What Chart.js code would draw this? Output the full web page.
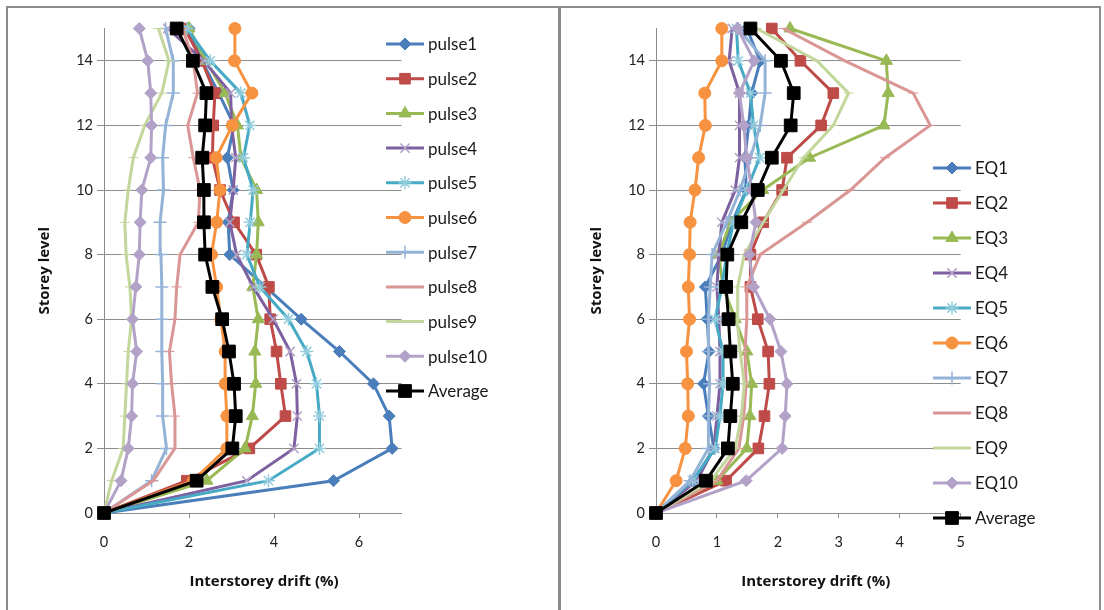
<!DOCTYPE html>
<html>
<head>
<meta charset="utf-8">
<script src="https://cdn.jsdelivr.net/npm/chart.js@4.4.1/dist/chart.umd.min.js"></script>
<style>
body { margin: 0; background: #fff; }
#wrap { position: relative; width: 1104px; height: 610px; overflow: hidden; }
.frame { position: absolute; top: 6px; height: 620px; border-top: 2px solid #8c8c8c; box-sizing: border-box; }
#f1 { left: 6px; width: 555px; border-left: 2px solid #8c8c8c; border-right: 3px solid #8c8c8c; }
#f2 { left: 561px; width: 540px; border-right: 2px solid #8c8c8c; }
canvas { position: absolute; top: 0; }
#c1 { left: 0; }
#c2 { left: 560px; }
</style>
</head>
<body>
<div id="wrap">
  <div class="frame" id="f1"></div>
  <div class="frame" id="f2"></div>
  <canvas id="c1" width="557" height="610"></canvas>
  <canvas id="c2" width="544" height="610"></canvas>
</div>
<script>
// storey levels (y) and tick labels
const storeys = [0, 1, 2, 3, 4, 5, 6, 7, 8, 9, 10, 11, 12, 13, 14, 15];
const yTicks = [0, 2, 4, 6, 8, 10, 12, 14];
const pulseXTicks = [0, 2, 4, 6];
const eqXTicks = [0, 1, 2, 3, 4, 5];

const pulseNames = ['pulse1', 'pulse2', 'pulse3', 'pulse4', 'pulse5', 'pulse6', 'pulse7', 'pulse8', 'pulse9', 'pulse10', 'Average'];
const eqNames = ['EQ1', 'EQ2', 'EQ3', 'EQ4', 'EQ5', 'EQ6', 'EQ7', 'EQ8', 'EQ9', 'EQ10', 'Average'];

// interstorey drift (%) per storey 0..15 - pulse records
const pulse1 = [0, 5.40, 6.78, 6.71, 6.34, 5.54, 4.64, 3.80, 2.96, 2.92, 3.04, 2.90, 3.06, 2.70, 2.30, 2.00];
const pulse2 = [0, 1.95, 3.42, 4.27, 4.16, 4.06, 3.91, 3.88, 3.58, 3.06, 2.73, 2.55, 2.57, 2.61, 2.30, 1.90];
const pulse3 = [0, 2.42, 3.32, 3.49, 3.57, 3.55, 3.63, 3.50, 3.59, 3.63, 3.59, 3.22, 3.14, 2.85, 2.40, 2.00];
const pulse4 = [0, 3.36, 4.47, 4.55, 4.53, 4.38, 3.98, 3.51, 3.12, 2.96, 3.04, 3.10, 3.00, 2.98, 2.35, 1.50];
const pulse5 = [0, 3.87, 5.07, 5.07, 5.00, 4.77, 4.34, 3.67, 3.36, 3.44, 3.51, 3.28, 3.43, 3.22, 2.50, 1.95];
const pulse6 = [0, 2.10, 2.89, 2.89, 2.85, 2.85, 2.75, 2.65, 2.53, 2.65, 2.73, 2.64, 3.02, 3.48, 3.07, 3.08];
const pulse7 = [0, 1.12, 1.47, 1.38, 1.38, 1.36, 1.36, 1.36, 1.34, 1.32, 1.40, 1.38, 1.45, 1.63, 1.63, 1.45];
const pulse8 = [0, 1.16, 1.67, 1.67, 1.59, 1.54, 1.67, 1.71, 1.79, 2.22, 2.26, 2.10, 1.97, 2.20, 2.10, 1.85];
const pulse9 = [0, 0.18, 0.45, 0.49, 0.53, 0.57, 0.65, 0.61, 0.52, 0.49, 0.57, 0.69, 0.96, 1.36, 1.53, 1.28];
const pulse10 = [0, 0.40, 0.57, 0.65, 0.67, 0.77, 0.67, 0.75, 0.83, 0.85, 0.89, 1.10, 1.12, 1.10, 1.03, 0.83];
const pulseAvg = [0, 2.18, 3.02, 3.10, 3.06, 2.94, 2.78, 2.55, 2.38, 2.35, 2.35, 2.31, 2.38, 2.41, 2.09, 1.71];

// interstorey drift (%) - EQ records
const eq1 = [0, 0.62, 0.95, 0.86, 0.78, 0.87, 0.84, 0.81, 1.08, 1.25, 1.48, 1.46, 1.52, 1.57, 1.71, 1.49];
const eq2 = [0, 1.15, 1.68, 1.78, 1.86, 1.84, 1.67, 1.55, 1.55, 1.76, 2.07, 2.15, 2.71, 2.91, 2.37, 1.90];
const eq3 = [0, 1.00, 1.49, 1.54, 1.57, 1.49, 1.30, 1.10, 1.03, 1.22, 1.75, 2.52, 3.74, 3.81, 3.78, 2.20];
const eq4 = [0, 0.67, 0.95, 1.00, 1.05, 1.05, 1.03, 1.00, 1.03, 1.08, 1.30, 1.37, 1.37, 1.37, 1.20, 1.25];
const eq5 = [0, 0.60, 0.97, 1.05, 1.10, 1.10, 0.97, 1.08, 1.16, 1.27, 1.49, 1.70, 1.60, 1.55, 1.35, 1.32];
const eq6 = [0, 0.33, 0.48, 0.53, 0.52, 0.50, 0.55, 0.53, 0.55, 0.56, 0.64, 0.70, 0.81, 0.80, 1.08, 1.08];
const eq7 = [0, 0.56, 0.86, 0.86, 0.88, 0.86, 0.86, 0.89, 0.92, 1.16, 1.38, 1.55, 1.71, 1.79, 1.79, 1.35];
const eq8 = [0, 1.00, 1.36, 1.44, 1.48, 1.46, 1.49, 1.49, 1.71, 2.48, 3.19, 3.76, 4.50, 4.22, 3.10, 2.09];
const eq9 = [0, 0.90, 1.30, 1.40, 1.45, 1.38, 1.33, 1.34, 1.45, 1.76, 2.09, 2.42, 2.91, 3.16, 2.64, 1.65];
const eq10 = [0, 1.48, 2.07, 2.12, 2.15, 2.05, 1.87, 1.60, 1.53, 1.64, 1.57, 1.49, 1.44, 1.37, 1.61, 1.34];
const eqAvg = [0, 0.82, 1.18, 1.22, 1.26, 1.22, 1.19, 1.15, 1.17, 1.40, 1.67, 1.90, 2.21, 2.26, 2.05, 1.55];

// look of the series (same for both panels)
const lineColors = ['#4A7EBB', '#BE4B48', '#98B954', '#7D60A0', '#46AAC5', '#F69240', '#95B3D7', '#D99694', '#C3D69B', '#B3A2C7', '#000000'];
const markerEdge = ['#4A7EBB', '#BE4B48', '#98B954', '#B3A2C7', '#93CDDD', '#F69240', '#95B3D7', '#D99694', '#C3D69B', '#B3A2C7', '#000000'];
const markerStyle = ['rectRot', 'rect', 'triangle', 'crossRot', 'star', 'circle', 'cross', 'line', 'line', 'rectRot', 'rect'];
const markerSize = [6, 7.5, 7, 6.5, 6.5, 6, 6.5, 5, 5, 6, 9];

const FONT = 'Lato, "Open Sans", sans-serif';
const TITLE_FONT = '"Open Sans", Lato, sans-serif';
const GRID = '#8c8c8c';

// Excel-like legend: line segment with marker in the middle, then the name
const excelLegend = {
    id: 'excelLegend',
    afterDraw(chart, args, opts) {
        const ctx = chart.ctx;
        ctx.save();
        chart.data.datasets.forEach((ds, i) => {
            const y = opts.y + i * opts.gap;
            const x = opts.x;
            ctx.strokeStyle = ds.borderColor;
            ctx.lineWidth = ds.borderWidth;
            ctx.beginPath();
            ctx.moveTo(x, y);
            ctx.lineTo(x + opts.len, y);
            ctx.stroke();
            ctx.fillStyle = ds.pointBackgroundColor;
            ctx.strokeStyle = ds.pointBorderColor;
            ctx.lineWidth = ds.pointBorderWidth;
            if (Chart.helpers && Chart.helpers.drawPoint) {
                Chart.helpers.drawPoint(ctx, {
                    pointStyle: ds.pointStyle, radius: ds.pointRadius,
                    borderWidth: ds.pointBorderWidth, rotation: 0
                }, x + opts.len / 2, y);
            }
            ctx.fillStyle = '#1a1a1a';
            ctx.font = opts.font;
            ctx.textBaseline = 'middle';
            ctx.textAlign = 'left';
            ctx.fillText(ds.label, x + opts.len + 4, y + 1);
        });
        ctx.restore();
    }
};

function buildDatasets(names, series) {
    const n = series.length;
    return series.map((vals, i) => ({
        label: names[i],
        data: vals.map((v, k) => ({ x: v, y: storeys[k] })),
        borderColor: lineColors[i],
        backgroundColor: lineColors[i],
        borderWidth: 3,
        pointStyle: markerStyle[i],
        pointRadius: markerSize[i],
        pointHoverRadius: markerSize[i],
        pointBackgroundColor: lineColors[i],
        pointBorderColor: markerEdge[i],
        pointBorderWidth: (markerStyle[i] === 'crossRot' || markerStyle[i] === 'star' || markerStyle[i] === 'cross') ? 1.5 : 1,
        tension: 0,
        clip: false,
        order: n - i
    }));
}

function makeChart(id, names, series, xMax, xTicks, cfg) {
    return new Chart(document.getElementById(id), {
        type: 'line',
        data: { datasets: buildDatasets(names, series) },
        plugins: [excelLegend],
        options: {
            responsive: false,
            animation: false,
            events: [],
            layout: { padding: { left: 0, right: cfg.padRight, top: 28.5, bottom: 0 } },
            plugins: {
                legend: { display: false },
                tooltip: { enabled: false },
                excelLegend: { x: cfg.legX, y: cfg.legY, gap: cfg.legGap, len: 38, font: '17px ' + FONT }
            },
            scales: {
                x: {
                    type: 'linear', min: 0, max: xMax,
                    afterBuildTicks: s => { s.ticks = xTicks.map(v => ({ value: v })); },
                    afterFit: s => { s.height = 97; },
                    grid: { drawOnChartArea: false, drawTicks: true, tickLength: 5, color: GRID },
                    border: { color: GRID, width: 1 },
                    ticks: { padding: 16, color: '#222', font: { family: FONT, size: 14.5 }, maxRotation: 0 },
                    title: {
                        display: true, text: cfg.xTitle, color: '#111',
                        font: { family: TITLE_FONT, size: 15, weight: 'bold' },
                        padding: { top: 0, bottom: 19 }
                    }
                },
                y: {
                    type: 'linear', min: 0, max: 15,
                    afterBuildTicks: s => { s.ticks = yTicks.map(v => ({ value: v })); },
                    afterFit: s => { s.width = cfg.yWidth; },
                    grid: { color: GRID, tickLength: 7 },
                    border: { color: GRID, width: 1 },
                    ticks: { padding: 4, color: '#222', font: { family: FONT, size: 14.5 } },
                    title: {
                        display: true, text: 'Storey level', color: '#111',
                        font: { family: TITLE_FONT, size: 15, weight: 'bold' },
                        padding: { top: cfg.yTitlePad, bottom: 0 }
                    }
                }
            }
        }
    });
}

makeChart('c1', pulseNames,
    [pulse1, pulse2, pulse3, pulse4, pulse5, pulse6, pulse7, pulse8, pulse9, pulse10, pulseAvg],
    7, pulseXTicks,
    { padRight: 155.5, yWidth: 104, yTitlePad: 35.5, legX: 386, legY: 44, legGap: 34.7, xTitle: '\u2002\u2002\u2002Interstorey drift (%)' });

makeChart('c2', eqNames,
    [eq1, eq2, eq3, eq4, eq5, eq6, eq7, eq8, eq9, eq10, eqAvg],
    5, eqXTicks,
    { padRight: 143.3, yWidth: 96, yTitlePad: 27.5, legX: 373, legY: 168, legGap: 35, xTitle: '\u2002\u2002Interstorey drift (%)' });
</script>
</body>
</html>
